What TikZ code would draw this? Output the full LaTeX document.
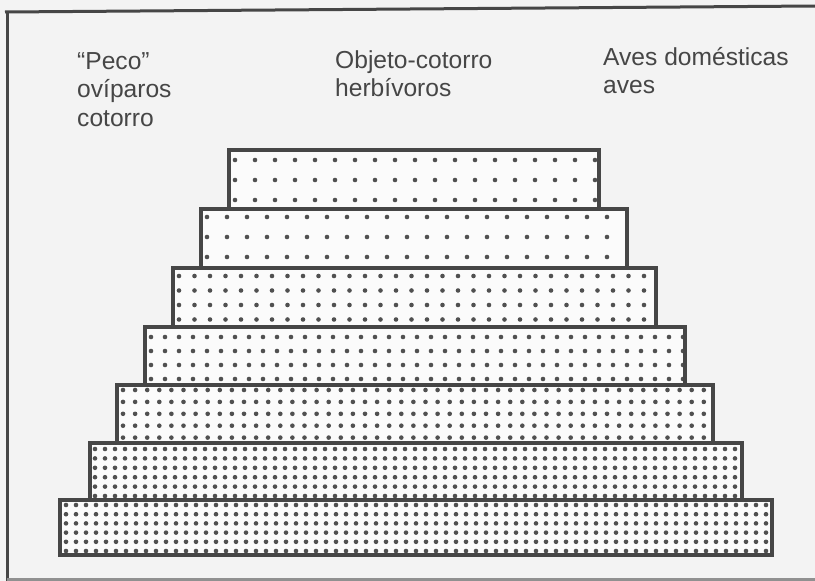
\documentclass[tikz,border=0pt]{standalone}
\usepackage{fontspec}
\setmainfont{Liberation Sans}
\usepackage{tikz}
\pgfdeclarelayer{background}
\pgfdeclarelayer{foreground}
\pgfsetlayers{background,main,foreground}
\definecolor{paper}{HTML}{F3F3F3}
\definecolor{ink}{HTML}{464646}
\definecolor{dotink}{HTML}{505050}
\tikzset{
  tierline/.style={draw=ink, line width=3.2pt},
  tierfill/.style={fill=white!70!paper},
  tierdot/.style={fill=dotink},
  framerule/.style={draw=ink, line width=3pt},
  label/.style={anchor=base west, inner sep=0pt, text=ink, font=\fontsize{24.6}{28.5}\selectfont}
}

\begin{document}
\begin{tikzpicture}[x=1pt,y=-1pt]
\useasboundingbox (0,0) rectangle (815,581);
\begin{pgfonlayer}{background}
\fill[paper] (0,0) rectangle (815,581);
\end{pgfonlayer}
% frame of the page
\draw[framerule] (5,12) -- (815,6);
\draw[framerule] (7,12) -- (7,581);
\draw[framerule, draw=ink!60] (7,579) -- (815,579);
% column headings
\node[label] (peco) at (77,69) {“Peco”};
\node[label] (oviparos) at (77,97.5) {ovíparos};
\node[label] (cotorro) at (77,126) {cotorro};
\node[label] (objeto) at (335,68) {Objeto-cotorro};
\node[label] (herbivoros) at (335,96.5) {herbívoros};
\node[label] (avesdom) at (603,65) {Aves domésticas};
\node[label] (aves) at (603,93.5) {aves};
% the stacked tiers
\foreach \l/\t/\r/\b/\xa/\dx/\ya/\dy/\n in {
  229/150/599/209/235/20/160/20/3,
  201/209/627/268/207/20/217/20/3,
  173/268/656/327/179/15.5/276/14.5/4,
  145/327/685/385/151/14/337/14/4,
  117/385/713/443/123/12.1/390/11.9/5,
  90/443/742/500/95/10/449/9.4/6,
  60/500/772/555/66/10/505/9.2/6}{
  \fill[tierfill] (\l,\t) rectangle (\r,\b);
  \pgfmathtruncatemacro\ncol{(\r-\xa-2)/\dx}
  \foreach \c in {0,...,\ncol}
    \foreach \k in {1,...,\n}
      \fill[tierdot] (\xa+\c*\dx,\ya+\k*\dy-\dy) circle[radius=2.3pt];
  \begin{pgfonlayer}{foreground}
  \draw[tierline] (\l,\t) rectangle (\r,\b);
  \end{pgfonlayer}
}
\end{tikzpicture}
\end{document}
